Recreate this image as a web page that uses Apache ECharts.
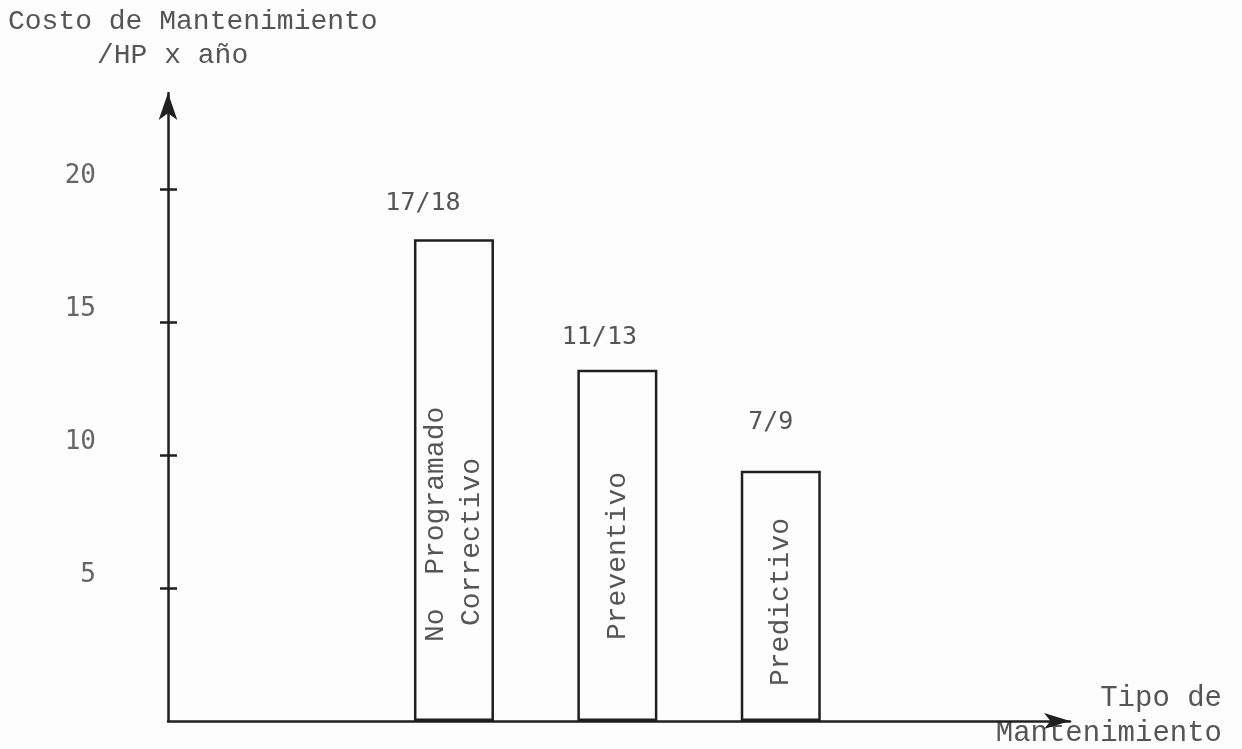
<!DOCTYPE html>
<html>
<head>
<meta charset="utf-8">
<title>Costo de Mantenimiento</title>
<script src="https://cdn.jsdelivr.net/npm/echarts@6/dist/echarts.min.js"></script>
<style>
  html, body { margin: 0; padding: 0; background: #fdfdfd; }
  #chart { width: 1242px; height: 749px; }
</style>
</head>
<body>
<div id="chart"></div>
<script>
// datos
var categories = [['No  Programado', 'Correctivo'], ['Preventivo'], ['Predictivo']]
var costValues = [18.1, 13.2, 9.4]
var rangeLabels = ['17/18', '11/13', '7/9']
var yTicks = [5, 10, 15, 20]

var serif = 'Liberation Mono'
var mono = 'DejaVu Sans Mono'
var ink = '#1f1f1f'
var textColor = '#555'

// ajuste fino de etiquetas (estilo)
var insideDistance = [79, 81, 35]
var topOffset = [[-31, 0], [-18, 0], [-10, 0]]
var topDistance = [23, 20, 36]

var chart = echarts.init(document.getElementById('chart'))

var barData = costValues.map(function (v, i) {
  return { value: [i + 1, v], label: { distance: insideDistance[i] } }
})
var topData = costValues.map(function (v, i) {
  return { value: [i + 1, v], label: { offset: topOffset[i], distance: topDistance[i] } }
})

chart.setOption({
  backgroundColor: '#fdfdfd',
  animation: false,
  grid: { left: 168, right: 172, top: 93, bottom: 28 },
  graphic: [
    { type: 'text', x: 8, y: 22, style: { text: 'Costo de Mantenimiento', fontFamily: serif, fontSize: 28, fill: textColor, verticalAlign: 'middle' } },
    { type: 'text', x: 97, y: 56, style: { text: '/HP x año', fontFamily: serif, fontSize: 28, fill: textColor, verticalAlign: 'middle' } },
    { type: 'text', x: 1222, y: 698, style: { text: 'Tipo de', fontFamily: serif, fontSize: 29, fill: textColor, align: 'right', verticalAlign: 'middle' } },
    { type: 'text', x: 1222, y: 733, style: { text: 'Mantenimiento', fontFamily: serif, fontSize: 29, fill: textColor, align: 'right', verticalAlign: 'middle' } }
  ],
  xAxis: {
    type: 'value',
    min: -0.75,
    max: 4.77,
    axisLine: {
      show: true,
      onZero: false,
      symbol: ['none', 'arrow'],
      symbolSize: [12, 26],
      lineStyle: { color: ink, width: 2.5 }
    },
    axisTick: { show: false },
    axisLabel: { show: false },
    splitLine: { show: false }
  },
  yAxis: [
    {
      type: 'value',
      min: 0,
      max: 23.6,
      interval: 5,
      axisLine: {
        show: true,
        onZero: false,
        symbol: ['none', 'arrow'],
        symbolSize: [14, 27],
        lineStyle: { color: ink, width: 2.5 }
      },
      axisTick: {
        show: true,
        customValues: yTicks,
        length: 8,
        lineStyle: { color: ink, width: 2.5 }
      },
      axisLabel: {
        customValues: yTicks,
        margin: 72,
        fontFamily: mono,
        fontSize: 26,
        color: '#666',
        verticalAlign: 'bottom'
      },
      splitLine: { show: false }
    },
    {
      // marcas que cruzan el eje hacia adentro
      type: 'value',
      position: 'left',
      min: 0,
      max: 23.6,
      interval: 5,
      axisLine: { show: false, onZero: false },
      axisTick: {
        show: true,
        inside: true,
        customValues: yTicks,
        length: 9,
        lineStyle: { color: ink, width: 2.5 }
      },
      axisLabel: { show: false },
      splitLine: { show: false }
    }
  ],
  series: [
    {
      name: 'Costo',
      type: 'bar',
      barWidth: 80,
      data: barData,
      itemStyle: { color: '#fdfdfd', borderColor: ink, borderWidth: 2.5 },
      label: {
        show: true,
        position: 'insideBottom',
        rotate: 90,
        align: 'left',
        verticalAlign: 'middle',
        formatter: function (p) {
          var lines = categories[p.dataIndex]
          if (lines.length > 1) {
            return '{a|' + lines[0] + '}\n{b|' + lines[1] + '}'
          }
          return '{a|' + lines[0] + '}'
        },
        rich: {
          a: { fontFamily: serif, fontSize: 28, color: textColor, lineHeight: 36 },
          b: { fontFamily: serif, fontSize: 28, color: textColor, lineHeight: 36, padding: [0, 0, 0, 16] }
        }
      }
    },
    {
      name: 'Rango',
      type: 'bar',
      barWidth: 80,
      barGap: '-100%',
      silent: true,
      data: topData,
      itemStyle: { color: 'rgba(0,0,0,0)' },
      label: {
        show: true,
        position: 'top',
        fontFamily: mono,
        fontSize: 25,
        color: textColor,
        formatter: function (p) {
          return rangeLabels[p.dataIndex]
        }
      }
    }
  ]
})
</script>
</body>
</html>
